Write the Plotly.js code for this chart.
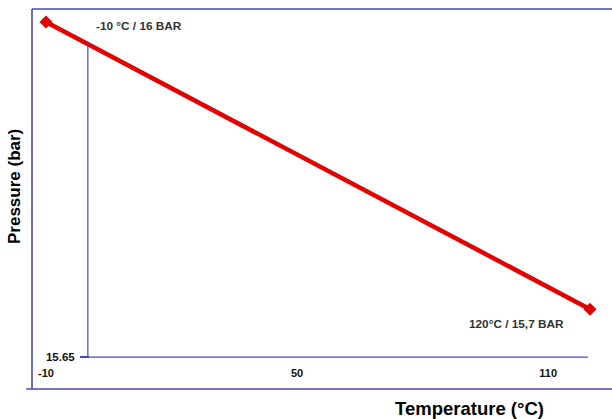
<!DOCTYPE html>
<html>
<head>
<meta charset="utf-8">
<script src="https://cdn.plot.ly/plotly-3.0.1.min.js"></script>
<style>html,body{margin:0;padding:0;background:#fff;}#chart{width:612px;height:419px;}</style>
</head>
<body>
<div id="chart"></div>
<script>
// Data
const temperature = [-10, 120];
const pressure = [16, 15.7];
const pointLabels = ["-10 °C / 16 BAR", "120°C / 15,7 BAR"];
const xTickVals = [-10, 50, 110];
const xTickText = ["-10", "50", "110"];
const yTickVals = [15.65];
const yTickText = ["15.65"];
// guide lines (inner axes)
const guideX = [0, 119.5];
const guideY = [15.65, 15.98];

const axisColor = '#4848b4';
const trace = {
  x: temperature, y: pressure, type: 'scatter', mode: 'lines+markers',
  line: {color: '#e50000', width: 4.5},
  marker: {symbol: 'diamond', size: 10, color: '#e50000'},
  hoverinfo: 'none', showlegend: false
};

const layout = {
  width: 612, height: 419,
  margin: {l: 32, r: 0, t: 9, b: 30},
  paper_bgcolor: '#fff', plot_bgcolor: '#fff',
  font: {family: 'Liberation Sans, Arial, sans-serif', color: '#111'},
  xaxis: {
    range: [-13.35, 125.26], showgrid: false, zeroline: false, showline: false,
    tickvals: xTickVals, ticktext: xTickText, ticks: '',
    anchor: 'free', position: 0.0842, ticklabelstandoff: 8,
    tickfont: {size: 11, family: 'Liberation Sans, Arial, sans-serif', weight: 'bold', color: '#111'}
  },
  yaxis: {
    range: [15.6166, 16.0136], showgrid: false, zeroline: false, showline: false,
    tickvals: yTickVals, ticktext: yTickText, ticks: 'outside', ticklen: 9, tickwidth: 1.2, tickcolor: axisColor,
    anchor: 'free', position: 0.0983, ticklabelstandoff: 3,
    tickfont: {size: 11.5, family: 'Liberation Sans, Arial, sans-serif', weight: 'bold', color: '#111'}
  },
  shapes: [
    // outer frame
    {type: 'line', xref: 'paper', yref: 'paper', x0: 0, x1: 1, y0: 1, y1: 1, line: {color: axisColor, width: 1.6}},
    {type: 'line', xref: 'paper', yref: 'paper', x0: 0, x1: 0, y0: 0, y1: 1, line: {color: axisColor, width: 1.6}},
    {type: 'line', xref: 'paper', yref: 'paper', x0: -0.01, x1: 1, y0: 0, y1: 0, line: {color: axisColor, width: 1.6}},
    // inner axes
    {type: 'line', xref: 'x', yref: 'y', x0: guideX[0], x1: guideX[0], y0: guideY[0], y1: guideY[1], line: {color: axisColor, width: 1.2}},
    {type: 'line', xref: 'x', yref: 'y', x0: guideX[0], x1: guideX[1], y0: guideY[0], y1: guideY[0], line: {color: axisColor, width: 1.2}}
  ],
  annotations: [
    {text: pointLabels[0], xref: 'x', yref: 'y', x: temperature[0], y: pressure[0], xanchor: 'left', yanchor: 'middle',
     xshift: 48, yshift: -4, showarrow: false,
     font: {size: 11.8, family: 'Liberation Sans, Arial, sans-serif', weight: 'bold', color: '#333'}},
    {text: pointLabels[1], xref: 'x', yref: 'y', x: temperature[1], y: pressure[1], xanchor: 'right', yanchor: 'middle',
     xshift: -24, yshift: -15, showarrow: false,
     font: {size: 11.8, family: 'Liberation Sans, Arial, sans-serif', weight: 'bold', color: '#333'}},
    {text: 'Temperature (°C)', xref: 'paper', yref: 'paper', x: (469 - 32) / 580, y: 0, yshift: -19,
     xanchor: 'center', yanchor: 'middle', showarrow: false,
     font: {size: 18.5, family: 'Liberation Sans, Arial, sans-serif', weight: 'bold', color: '#000'}},
    {text: 'Pressure (bar)', xref: 'paper', yref: 'paper', x: 0, xshift: -18, y: (389 - 187) / 380,
     xanchor: 'center', yanchor: 'middle', textangle: -90, showarrow: false,
     font: {size: 17, family: 'Liberation Sans, Arial, sans-serif', weight: 'bold', color: '#000'}}
  ]
};

Plotly.newPlot('chart', [trace], layout, {staticPlot: true, displayModeBar: false});
</script>
</body>
</html>
